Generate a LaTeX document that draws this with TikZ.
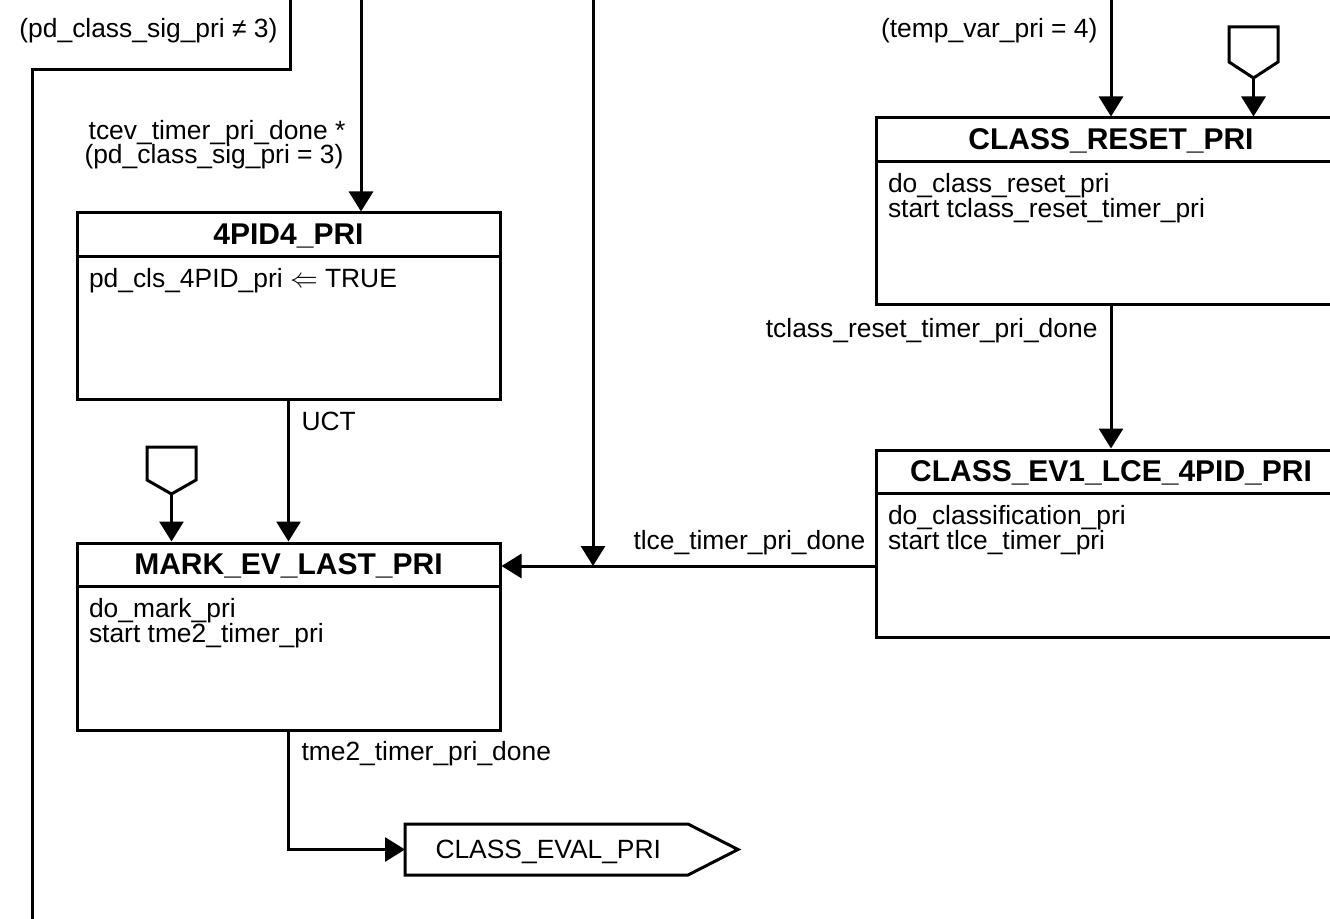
\documentclass[tikz,border=0pt]{standalone}
\usepackage{fontspec}
\setmainfont{Liberation Sans}
\usetikzlibrary{arrows.meta}
\begin{document}
\begin{tikzpicture}[x=0.75pt,y=-0.75pt,
 line width=2.25pt,
 arr/.style={-{Triangle[width=18pt,length=15pt]}},
 box/.style={draw, inner sep=0pt, minimum height=140.25pt},
 lbox/.style={box, minimum width=317.25pt},
 rbox/.style={box, minimum width=352.5pt},
 ttl/.style={font=\fontsize{22.5pt}{25pt}\selectfont\bfseries, inner sep=0pt, anchor=base},
 txt/.style={font=\fontsize{19.8pt}{22pt}\selectfont, inner sep=0pt, anchor=base west},
 rtxt/.style={txt, anchor=base east},
 sep/.style={line width=2.25pt},
]
\useasboundingbox (0,0) rectangle (1330,919);
\clip (0,0) rectangle (1330,919);

% state boxes
\node[lbox] (p4) at (288.5,306.5) {};
\node[lbox] (mark) at (288.5,636.5) {};
\node[rbox] (reset) at (1111,211.5) {};
\node[rbox] (ev1) at (1111,543.5) {};

\foreach \b in {p4,mark,reset,ev1}{
  \draw[sep] ([yshift=-33.75pt]\b.north west) -- ([yshift=-33.75pt]\b.north east);
}

% titles
\node[ttl] (p4t) at ([yshift=-24.75pt]p4.north) {4PID4\_PRI};
\node[ttl] (markt) at ([yshift=-24.75pt]mark.north) {MARK\_EV\_LAST\_PRI};
\node[ttl] (resett) at ([yshift=-24.75pt]reset.north) {CLASS\_RESET\_PRI};
\node[ttl] (ev1t) at ([yshift=-24.75pt]ev1.north) {CLASS\_EV1\_LCE\_4PID\_PRI};

% bodies
\node[txt] (p4b1) at ([xshift=9pt,yshift=-57pt]p4.north west) {pd\_cls\_4PID\_pri $\Leftarrow$ TRUE};
\node[txt] (markb1) at ([xshift=9pt,yshift=-57pt]mark.north west) {do\_mark\_pri};
\node[txt] (markb2) at ([xshift=9pt,yshift=-75.75pt]mark.north west) {start tme2\_timer\_pri};
\node[txt] (resetb1) at ([xshift=9pt,yshift=-57pt]reset.north west) {do\_class\_reset\_pri};
\node[txt] (resetb2) at ([xshift=9pt,yshift=-75.75pt]reset.north west) {start tclass\_reset\_timer\_pri};
\node[txt] (ev1b1) at ([xshift=9pt,yshift=-57pt]ev1.north west) {do\_classification\_pri};
\node[txt] (ev1b2) at ([xshift=9pt,yshift=-75.75pt]ev1.north west) {start tlce\_timer\_pri};

% exit state
\draw (405,824) -- (688,824) -- (738,849.5) -- (688,875) -- (405,875) -- cycle;
\coordinate (evalin) at (405,849.5);
\node[txt] (evalt) at (434,858) {CLASS\_EVAL\_PRI};

% entry markers
\draw (147,447) -- (196,447) -- (196,480) -- (171.5,494) -- (147,480) -- cycle;
\coordinate (entryL) at (171.5,494);
\draw (1229,27) -- (1278,27) -- (1278,62) -- (1253.5,78) -- (1229,62) -- cycle;
\coordinate (entryR) at (1253.5,78);

% free ends at top
\coordinate (topA) at (290,-5);
\coordinate (bendA) at (290,70);
\coordinate (loopEnd) at (32,930);
\coordinate (topB) at (361,-5);
\coordinate (topC) at (593,-5);
\coordinate (join) at (593,566);
\coordinate (topD) at (1111,-5);

% connectors
\draw (topA) -- (bendA) -| (loopEnd);
\draw[arr] (topB) -- (topB |- p4.north);
\draw[arr] (topC) -- (join);
\draw[arr] (topD) -- (reset.north);
\draw[arr] (entryR) -- (entryR |- reset.north);
\draw[arr] (reset.south) -- (ev1.north);
\draw[arr] (ev1.west |- join) -- (mark.east |- join);
\draw[arr] (p4.south) -- (mark.north);
\draw[arr] (entryL) -- (entryL |- mark.north);
\draw[arr] (mark.south) |- (evalin);

% labels
\node[rtxt] (lA) at (279,38) {(pd\_class\_sig\_pri ≠ 3)};
\node[rtxt] (lB1) at (347,140) {tcev\_timer\_pri\_done *};
\node[rtxt] (lB2) at (345,164) {(pd\_class\_sig\_pri = 3)};
\node[rtxt] (lD) at (1099,38) {(temp\_var\_pri = 4)};
\node[txt] (lUCT) at (300,431) {UCT};
\node[txt] (lC) at (632,549) {tlce\_timer\_pri\_done};
\node[rtxt] (lR) at (1099,338) {tclass\_reset\_timer\_pri\_done};
\node[txt] (lM) at (300,760) {tme2\_timer\_pri\_done};
\end{tikzpicture}
\end{document}
